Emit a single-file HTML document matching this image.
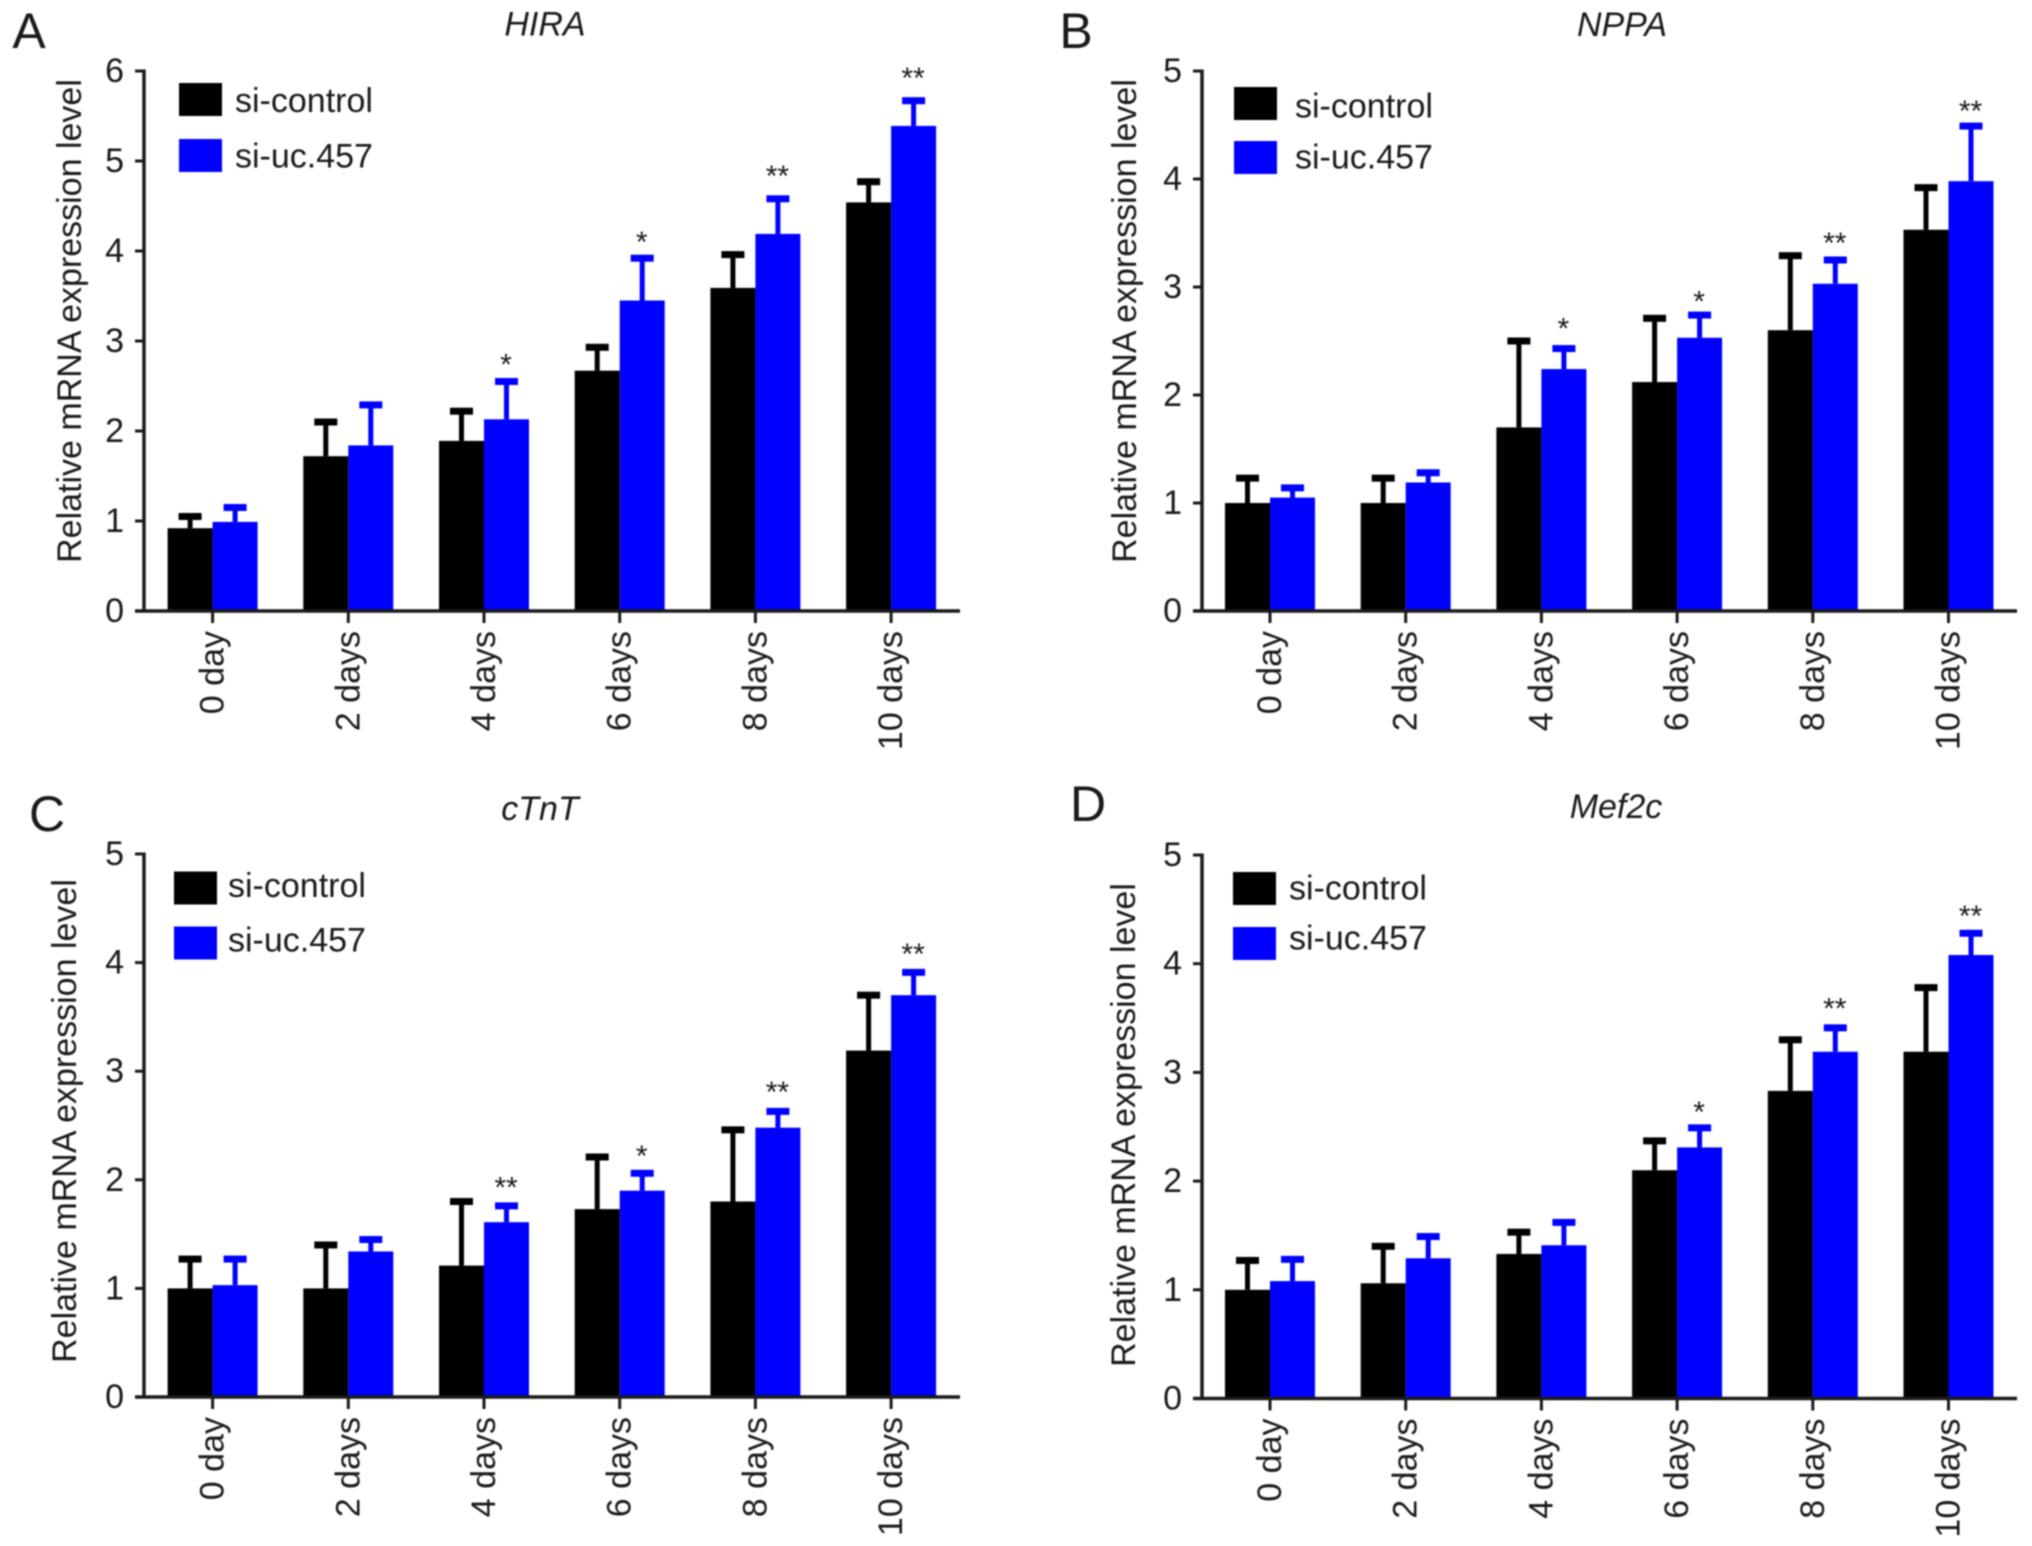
<!DOCTYPE html>
<html>
<head>
<meta charset="utf-8">
<title>Relative mRNA expression level panels</title>
<style>
html,body{margin:0;padding:0;background:#fff;width:2032px;height:1546px;overflow:hidden}
svg{display:block;filter:blur(0.7px)}
text{font-family:"Liberation Sans",sans-serif;fill:#1a1a1a;font-size:34px}
</style>
</head>
<body>
<svg id="figure" xmlns="http://www.w3.org/2000/svg" width="2032" height="1546" viewBox="0 0 2032 1546"></svg>
<script>
const categories = ['0 day','2 days','4 days','6 days','8 days','10 days'];
const seriesNames = ['si-control','si-uc.457'];

const hiraTicks = [0,1,2,3,4,5,6];
const hiraControl = [0.92,1.72,1.89,2.67,3.59,4.54];
const hiraUc457 = [0.99,1.84,2.13,3.45,4.19,5.39];
const hiraControlErr = [1.05,2.10,2.22,2.93,3.96,4.77];
const hiraUc457Err = [1.15,2.29,2.55,3.92,4.58,5.67];
const hiraStars = ['','','*','*','**','**'];
const hiraStarLevels = [0,0,2.78,4.14,4.87,5.96];

const nppaTicks = [0,1,2,3,4,5];
const nppaControl = [1.00,1.00,1.70,2.12,2.60,3.53];
const nppaUc457 = [1.05,1.19,2.24,2.53,3.03,3.98];
const nppaControlErr = [1.23,1.23,2.50,2.71,3.29,3.92];
const nppaUc457Err = [1.14,1.28,2.43,2.74,3.25,4.49];
const nppaStars = ['','','*','*','**','**'];
const nppaStarLevels = [0,0,2.65,2.90,3.44,4.66];

const ctntTicks = [0,1,2,3,4,5];
const ctntControl = [1.00,1.00,1.21,1.73,1.80,3.19];
const ctntUc457 = [1.03,1.34,1.61,1.90,2.48,3.70];
const ctntControlErr = [1.27,1.40,1.80,2.21,2.46,3.70];
const ctntUc457Err = [1.27,1.45,1.76,2.06,2.63,3.91];
const ctntStars = ['','','**','*','**','**'];
const ctntStarLevels = [0,0,1.96,2.25,2.84,4.11];

const mef2cTicks = [0,1,2,3,4,5];
const mef2cControl = [1.00,1.06,1.33,2.10,2.83,3.19];
const mef2cUc457 = [1.08,1.29,1.41,2.31,3.19,4.08];
const mef2cControlErr = [1.27,1.40,1.53,2.37,3.30,3.78];
const mef2cUc457Err = [1.28,1.49,1.62,2.49,3.41,4.28];
const mef2cStars = ['','','','*','**','**'];
const mef2cStarLevels = [0,0,0,2.67,3.62,4.47];

const NS = 'http://www.w3.org/2000/svg';
const svg = document.getElementById('figure');
const BLACK = '#000000', BLUE = '#0000ff', AXIS = '#1a1a1a';

function mk(tag, attrs, parent, txt) {
  const el = document.createElementNS(NS, tag);
  for (const k in attrs) el.setAttribute(k, attrs[k]);
  if (txt !== undefined) el.textContent = txt;
  parent.appendChild(el);
  return el;
}

function drawPanel(p) {
  const g = mk('g', {}, svg);
  
  

  const yMax = p.ticks[p.ticks.length - 1];
  const yScale = v => p.y0 - (v / yMax) * (p.y0 - p.yTop);
  const xScale = i => p.x0 + i * 135.7;
  const barW = 45;
  const capW = 23, capH = 7, stemW = 5;

  const letter = mk('text', {x: p.letterX, y: p.letterY, 'text-anchor': 'middle', 'dominant-baseline': 'central', style: 'font-size:50px'}, g, p.letter);
  
  

  const title = mk('text', {x: p.titleX, y: p.titleY, 'text-anchor': 'middle', 'dominant-baseline': 'central', 'font-style': 'italic'}, g, p.title);
  
  

  const yTitle = mk('text', {transform: 'translate(' + p.yLabelX + ',' + p.yLabelY + ') rotate(-90)', 'text-anchor': 'middle', 'dominant-baseline': 'central'}, g, 'Relative mRNA expression level');
  
  

  categories.forEach((cat, i) => {
    const cx = xScale(i);
    [[p.control, p.controlErr, BLACK, -1, 'control'], [p.uc457, p.uc457Err, BLUE, 1, 'uc457']].forEach(s => {
      const val = s[0][i], err = s[1][i], col = s[2], side = s[3];
      const bx = side < 0 ? cx - barW : cx;
      const mid = bx + barW / 2;

      const stem = mk('rect', {x: mid - stemW / 2, y: yScale(err), width: stemW, height: yScale(val) - yScale(err), fill: col}, g);
      
      

      const cap = mk('rect', {x: mid - capW / 2, y: yScale(err) - capH / 2, width: capW, height: capH, fill: col}, g);
      
      

      const bar = mk('rect', {x: bx, y: yScale(val), width: barW, height: p.y0 - yScale(val), fill: col}, g);
      
      
    });

    if (p.stars[i]) {
      const star = mk('text', {x: cx + barW / 2 - 0.5, y: yScale(p.starLevels[i]) + 13.5, 'text-anchor': 'middle', style: 'font-size:30px'}, g, p.stars[i]);
      
      
    }

    const tick = mk('rect', {x: cx - 1.5, y: p.y0, width: 3, height: 12, fill: AXIS}, g);
    
    

    const lab = mk('text', {transform: 'translate(' + cx + ',' + (p.y0 + 20) + ') rotate(-90)', 'text-anchor': 'end', 'dominant-baseline': 'central'}, g, cat);
    
    
  });

  const yAxis = mk('rect', {x: p.axisX - 1.75, y: p.yTop - 1.5, width: 3.5, height: p.y0 - p.yTop + 3, fill: AXIS}, g);
  
  

  const xAxis = mk('rect', {x: p.axisX - 9, y: p.y0 - 1.75, width: p.axisEnd - p.axisX + 9, height: 3.5, fill: AXIS}, g);
  
  

  p.ticks.forEach(t => {
    const yt = yScale(t);
    const tk = mk('rect', {x: p.axisX - 9, y: yt - 1.5, width: 9, height: 3, fill: AXIS}, g);
    
    

    const tl = mk('text', {x: p.axisX - 20, y: yt, 'text-anchor': 'end', 'dominant-baseline': 'central'}, g, String(t));
    
    
  });

  seriesNames.forEach((name, i) => {
    const sw = mk('rect', {x: p.legendX, y: p.legendY[i] - 16.5, width: 43, height: 33, fill: i ? BLUE : BLACK}, g);
    
    

    const lt = mk('text', {x: p.legendTextX, y: p.legendTextY[i], 'dominant-baseline': 'central'}, g, name);
    
    
  });
}

drawPanel({slug:'hira', letter:'A', title:'HIRA', ticks:hiraTicks, control:hiraControl, uc457:hiraUc457, controlErr:hiraControlErr, uc457Err:hiraUc457Err, stars:hiraStars, starLevels:hiraStarLevels,
  x0:212.6, axisX:144, axisEnd:960, y0:611, yTop:71, letterX:29, letterY:31, titleX:545, titleY:24.5, yLabelX:70, yLabelY:321,
  legendX:179, legendY:[99.5,155.5], legendTextX:235, legendTextY:[101,156.5]});
drawPanel({slug:'nppa', letter:'B', title:'NPPA', ticks:nppaTicks, control:nppaControl, uc457:nppaUc457, controlErr:nppaControlErr, uc457Err:nppaUc457Err, stars:nppaStars, starLevels:nppaStarLevels,
  x0:1270, axisX:1202, axisEnd:2017, y0:611, yTop:71, letterX:1076, letterY:31, titleX:1622, titleY:25, yLabelX:1125, yLabelY:321,
  legendX:1234, legendY:[103.5,157.5], legendTextX:1295, legendTextY:[106.5,157.5]});
drawPanel({slug:'ctnt', letter:'C', title:'cTnT', ticks:ctntTicks, control:ctntControl, uc457:ctntUc457, controlErr:ctntControlErr, uc457Err:ctntUc457Err, stars:ctntStars, starLevels:ctntStarLevels,
  x0:212.6, axisX:144, axisEnd:960, y0:1397, yTop:854, letterX:47, letterY:814, titleX:540, titleY:809, yLabelX:65, yLabelY:1121,
  legendX:174, legendY:[888,943], legendTextX:228, legendTextY:[886,940.5]});
drawPanel({slug:'mef2c', letter:'D', title:'Mef2c', ticks:mef2cTicks, control:mef2cControl, uc457:mef2cUc457, controlErr:mef2cControlErr, uc457Err:mef2cUc457Err, stars:mef2cStars, starLevels:mef2cStarLevels,
  x0:1270, axisX:1202, axisEnd:2017, y0:1398.5, yTop:855, letterX:1088, letterY:804, titleX:1616, titleY:807, yLabelX:1124, yLabelY:1125,
  legendX:1233, legendY:[888.5,943.5], legendTextX:1289, legendTextY:[888.5,938.5]});
</script>
</body>
</html>
